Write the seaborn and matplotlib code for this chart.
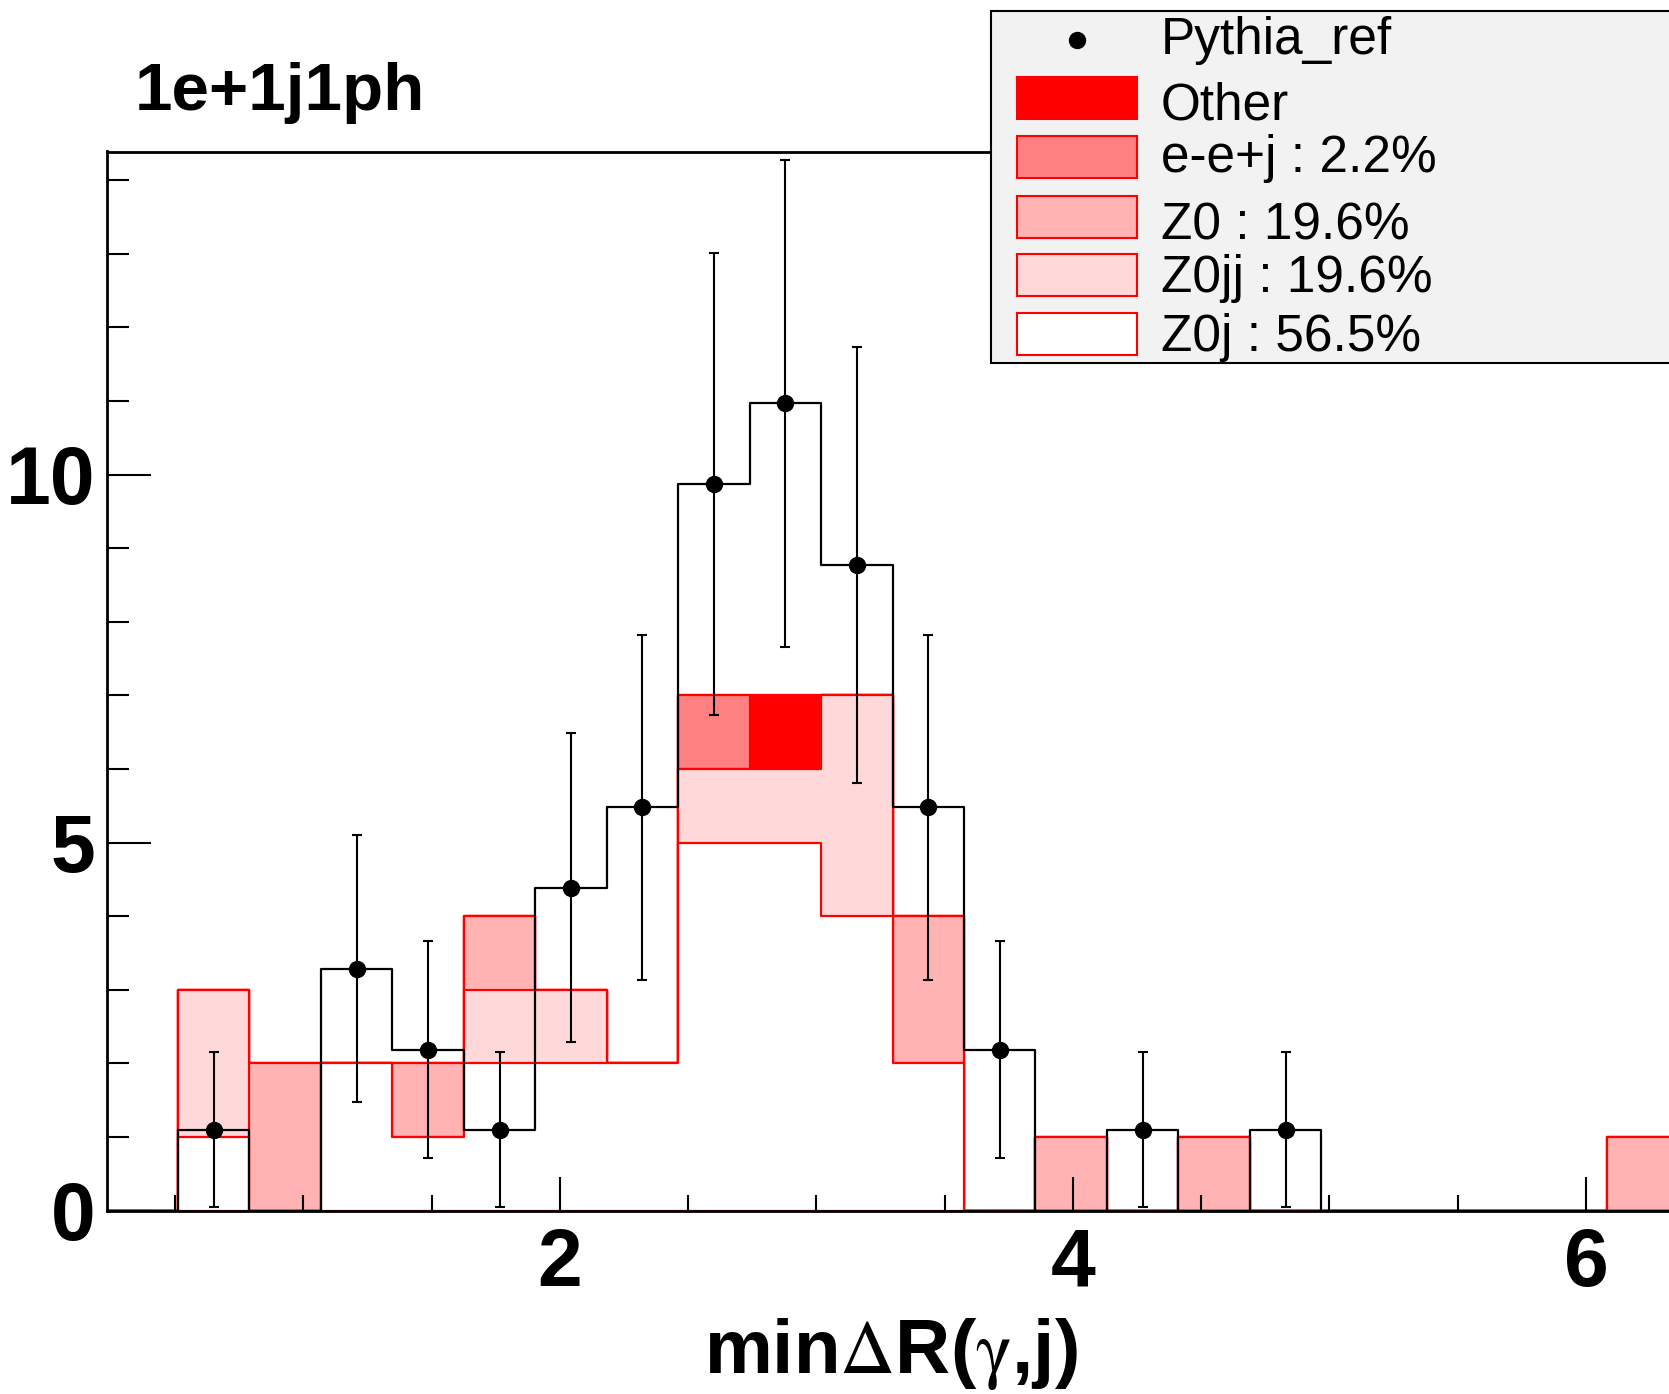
import numpy as np
import pandas as pd
import seaborn as sns
import matplotlib.pyplot as plt
from matplotlib.patches import Rectangle
from matplotlib.ticker import MultipleLocator

# bin edges of minDR(gamma, j)
bin_edges = [0.232, 0.5106, 0.7892, 1.0678, 1.3464, 1.625, 1.9036, 2.1822,
             2.4608, 2.7394, 3.018, 3.2966, 3.5752, 3.8538, 4.1324, 4.411,
             4.6896, 4.9682, 5.2468, 5.5254, 5.804, 6.0826, 6.3612]

# MC samples (events per bin), bottom of the stack first
z0j   = [0, 1, 0, 2, 1, 2, 2, 2, 5, 5, 4, 2, 0, 0, 0, 0, 0, 0, 0, 0, 0, 0]
z0jj  = [0, 2, 0, 0, 0, 1, 1, 0, 1, 1, 3, 0, 0, 0, 0, 0, 0, 0, 0, 0, 0, 0]
z0    = [0, 0, 2, 0, 1, 1, 0, 0, 0, 0, 0, 2, 0, 1, 0, 1, 0, 0, 0, 0, 0, 1]
eej   = [0, 0, 0, 0, 0, 0, 0, 0, 1, 0, 0, 0, 0, 0, 0, 0, 0, 0, 0, 0, 0, 0]
other = [0, 0, 0, 0, 0, 0, 0, 0, 0, 1, 0, 0, 0, 0, 0, 0, 0, 0, 0, 0, 0, 0]

# Pythia_ref points
data_vals = [0, 1.10, 0, 3.29, 2.19, 1.10, 4.39, 5.48, 9.87, 10.97, 8.77, 5.48,
             2.19, 0, 1.10, 0, 1.10, 0, 0, 0, 0, 0]
data_errs = [0, 1.05, 0, 1.81, 1.48, 1.05, 2.10, 2.34, 3.14, 3.31, 2.96, 2.34,
             1.48, 0, 1.05, 0, 1.05, 0, 0, 0, 0, 0]

samples = ['Z0j', 'Z0jj', 'Z0', 'e-e+j', 'Other']
fills = ['#FFFFFF', '#FFD9D9', '#FFB3B3', '#FF8080', '#FF0000']
legend_labels = ['Pythia_ref', 'Other', 'e-e+j : 2.2%', 'Z0 : 19.6%',
                 'Z0jj : 19.6%', 'Z0j : 56.5%']

edges = np.array(bin_edges)
centers = 0.5 * (edges[:-1] + edges[1:])
df = pd.DataFrame({'x': centers, 'Z0j': z0j, 'Z0jj': z0jj, 'Z0': z0,
                   'e-e+j': eej, 'Other': other,
                   'data': data_vals, 'err': data_errs})
cum = df[samples].cumsum(axis=1)
for name in samples:
    df['cum_' + name] = cum[name].astype(float)

sns.set_theme(style="ticks")
plt.rcParams['font.family'] = ['Liberation Sans', 'DejaVu Sans']
plt.rcParams['text.color'] = 'black'
plt.rcParams['mathtext.fontset'] = 'stix'

W, H = 1669, 1394
fig = plt.figure(figsize=(W / 100, H / 100), dpi=100)
ax = fig.add_axes([106.5 / W, 1 - 1210.7 / H, 1572.1 / W, (1210.7 - 151.5) / H])

# stacked MC, top layer first so the lower ones are painted over it
for name, col in reversed(list(zip(samples, fills))):
    sns.histplot(data=df, x='x', weights='cum_' + name, bins=bin_edges,
                 element='step', fill=True, facecolor=col, edgecolor='red',
                 linewidth=1.6, ax=ax, zorder=2)

# data histogram outline + points
sns.histplot(data=df, x='x', weights='data', bins=bin_edges, element='step',
             fill=False, color='black', linewidth=1.6, ax=ax, zorder=4)
pts = df[df['data'] > 0]
ax.errorbar(pts['x'], pts['data'], yerr=pts['err'], fmt='o', color='black',
            ms=11.5, elinewidth=1.5, capsize=3.3, capthick=1.5, zorder=5)

ax.set_axisbelow(False)
ax.set_xlim(bin_edges[0], bin_edges[-1])
ax.set_ylim(0, 14.39)
ax.set_xticks([2, 4, 6])
ax.set_yticks([0, 5, 10])
ax.xaxis.set_minor_locator(MultipleLocator(0.5))
ax.yaxis.set_minor_locator(MultipleLocator(1))
ax.tick_params(axis='y', which='major', direction='in', length=31.5, width=1.5,
               labelsize=58, pad=8, colors='black')
ax.tick_params(axis='y', which='minor', direction='in', length=15.5, width=1.5,
               colors='black')
ax.tick_params(axis='x', which='major', direction='in', length=24.5, width=1.5,
               labelsize=58, pad=11.5, colors='black')
ax.tick_params(axis='x', which='minor', direction='in', length=11.5, width=1.5,
               colors='black')
for lbl in ax.get_xticklabels() + ax.get_yticklabels():
    lbl.set_fontweight('bold')
ax.set_xlabel('')
ax.set_ylabel('')
for side in ['left', 'bottom', 'top', 'right']:
    ax.spines[side].set_color('black')
    ax.spines[side].set_linewidth(2)
    ax.spines[side].set_zorder(6)

# overlay in pixel coordinates for title, axis title and legend box
lg = fig.add_axes([0, 0, 1, 1], zorder=10)
lg.set_xlim(0, W)
lg.set_ylim(H, 0)
lg.axis('off')

lg.text(135, 110, '1e+1j1ph', fontsize=48.5, fontweight='bold', va='baseline',
        ha='left', color='black')
lg.text(891, 1373, r'min$\mathrm{\Delta}$R($\mathrm{\gamma}$,j)', fontsize=55,
        fontweight='bold', va='baseline', ha='center', color='black')

lg.add_patch(Rectangle((990.7, 10.7), 720, 352.3, facecolor='#F2F2F2',
                       edgecolor='black', linewidth=1.5))
lg.plot([1076.7], [40], 'o', color='black', ms=11.5)
box_tops = [77, 136, 196, 254, 313]
box_fills = ['#FF0000', '#FF8080', '#FFB3B3', '#FFD9D9', '#FFFFFF']
for top, col in zip(box_tops, box_fills):
    lg.add_patch(Rectangle((1016.7, top), 120, 42, facecolor=col,
                           edgecolor='red', linewidth=1.5))
baselines = [54, 120, 172, 239, 292, 351]
for lab, yb in zip(legend_labels, baselines):
    lg.text(1161, yb, lab, fontsize=37, va='baseline', ha='left', color='black')

fig.savefig('out.png', dpi=100, facecolor='white')
